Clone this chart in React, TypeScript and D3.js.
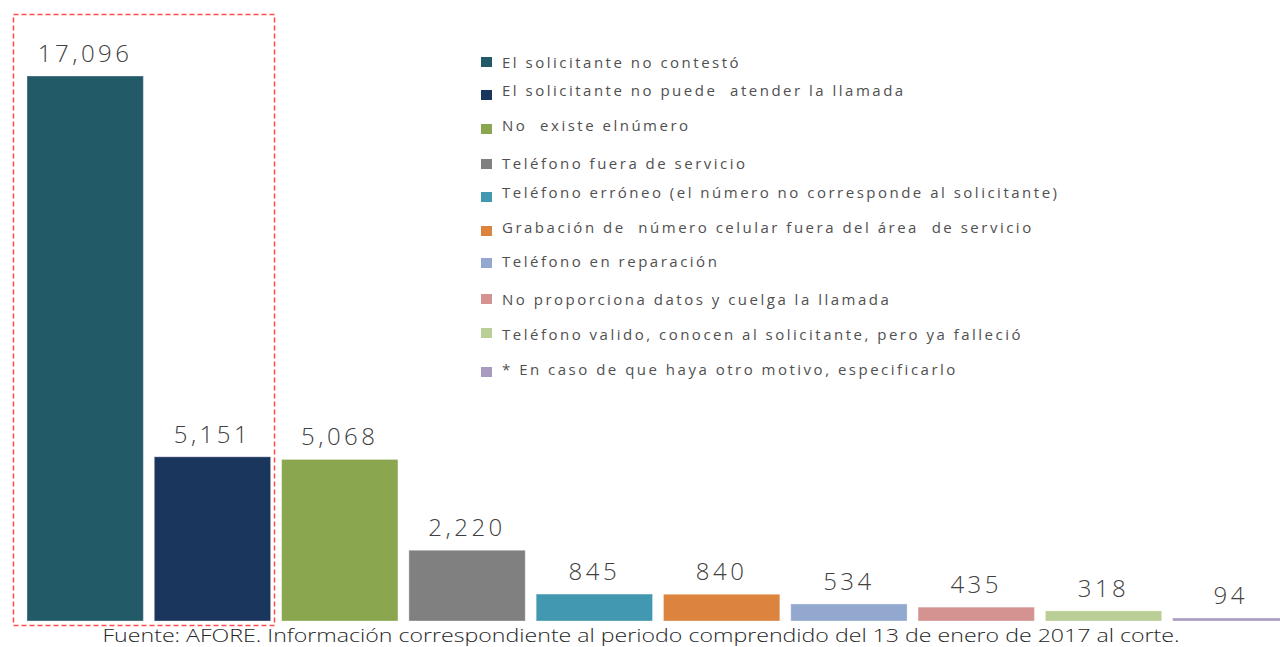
import React from "react";
import * as d3 from "d3";

const categories: string[] = [
  "El solicitante no contestó",
  "El solicitante no puede  atender la llamada",
  "No  existe elnúmero",
  "Teléfono fuera de servicio",
  "Teléfono erróneo (el número no corresponde al solicitante)",
  "Grabación de  número celular fuera del área  de servicio",
  "Teléfono en reparación",
  "No proporciona datos y cuelga la llamada",
  "Teléfono valido, conocen al solicitante, pero ya falleció",
  "* En caso de que haya otro motivo, especificarlo",
];

const values: number[] = [17096, 5151, 5068, 2220, 845, 840, 534, 435, 318, 94];

const colors: string[] = [
  "#225a68",
  "#1a365d",
  "#8aa64f",
  "#808080",
  "#4298b0",
  "#dc843e",
  "#93a8cf",
  "#d49290",
  "#b9cf96",
  "#a99bbf",
];

const footer =
  "Fuente: AFORE. Información correspondiente al periodo comprendido del 13 de enero de 2017 al corte.";

// layout (not data)
const W = 1280;
const H = 647;
const legendTextY = [62, 90, 125, 163, 192, 227, 261, 299, 334, 369];
const legendBoxY = [62, 95, 129, 164, 197, 231, 263, 299, 333, 372];

export default function App() {
  const x = d3
    .scaleBand<string>()
    .domain(categories)
    .range([27, 1289])
    .paddingInner(0.086)
    .paddingOuter(0);
  const y = d3.scaleLinear().domain([0, 17096]).range([621, 76]);
  const fmt = d3.format(",");

  return (
    <svg
      width={W}
      height={H}
      style={{ position: "absolute", left: 0, top: 0, background: "#fff" }}
      fontFamily="'Open Sans', sans-serif"
    >
      <rect x={0} y={0} width={W} height={H} fill="#fff" />
      {categories.map((c, i) => (
        <g key={c}>
          <rect
            x={x(c)!}
            y={y(values[i])}
            width={x.bandwidth()}
            height={y(0) - y(values[i])}
            fill={colors[i]}
            stroke="#ffffff"
            strokeOpacity={0.35}
            strokeWidth={1}
          />
          <text
            x={x(c)! + x.bandwidth() / 2}
            y={y(values[i]) - 14}
            textAnchor="middle"
            fontSize={24}
            fontWeight={300}
            letterSpacing={3.5}
            fill="#404040"
          >
            {fmt(values[i])}
          </text>
        </g>
      ))}
      <rect
        x={13.5}
        y={14.5}
        width={261}
        height={611}
        fill="none"
        stroke="#ff4b4b"
        strokeWidth={1.5}
        strokeDasharray="5,3"
      />
      {categories.map((c, i) => (
        <g key={"lg" + i}>
          <rect x={481} y={legendBoxY[i] - 5} width={11} height={10} fill={colors[i]} />
          <text
            x={502}
            y={legendTextY[i]}
            dominantBaseline="central"
            fontSize={15}
            fontWeight={400}
            letterSpacing={2.5}
            fill="#505050"
            xmlSpace="preserve"
          >
            {c}
          </text>
        </g>
      ))}
      <text
        x={641}
        y={642}
        textAnchor="middle"
        fontSize={19}
        fontWeight={300}
        fill="#262626"
        textLength={1077}
        lengthAdjust="spacingAndGlyphs"
      >
        {footer}
      </text>
    </svg>
  );
}
